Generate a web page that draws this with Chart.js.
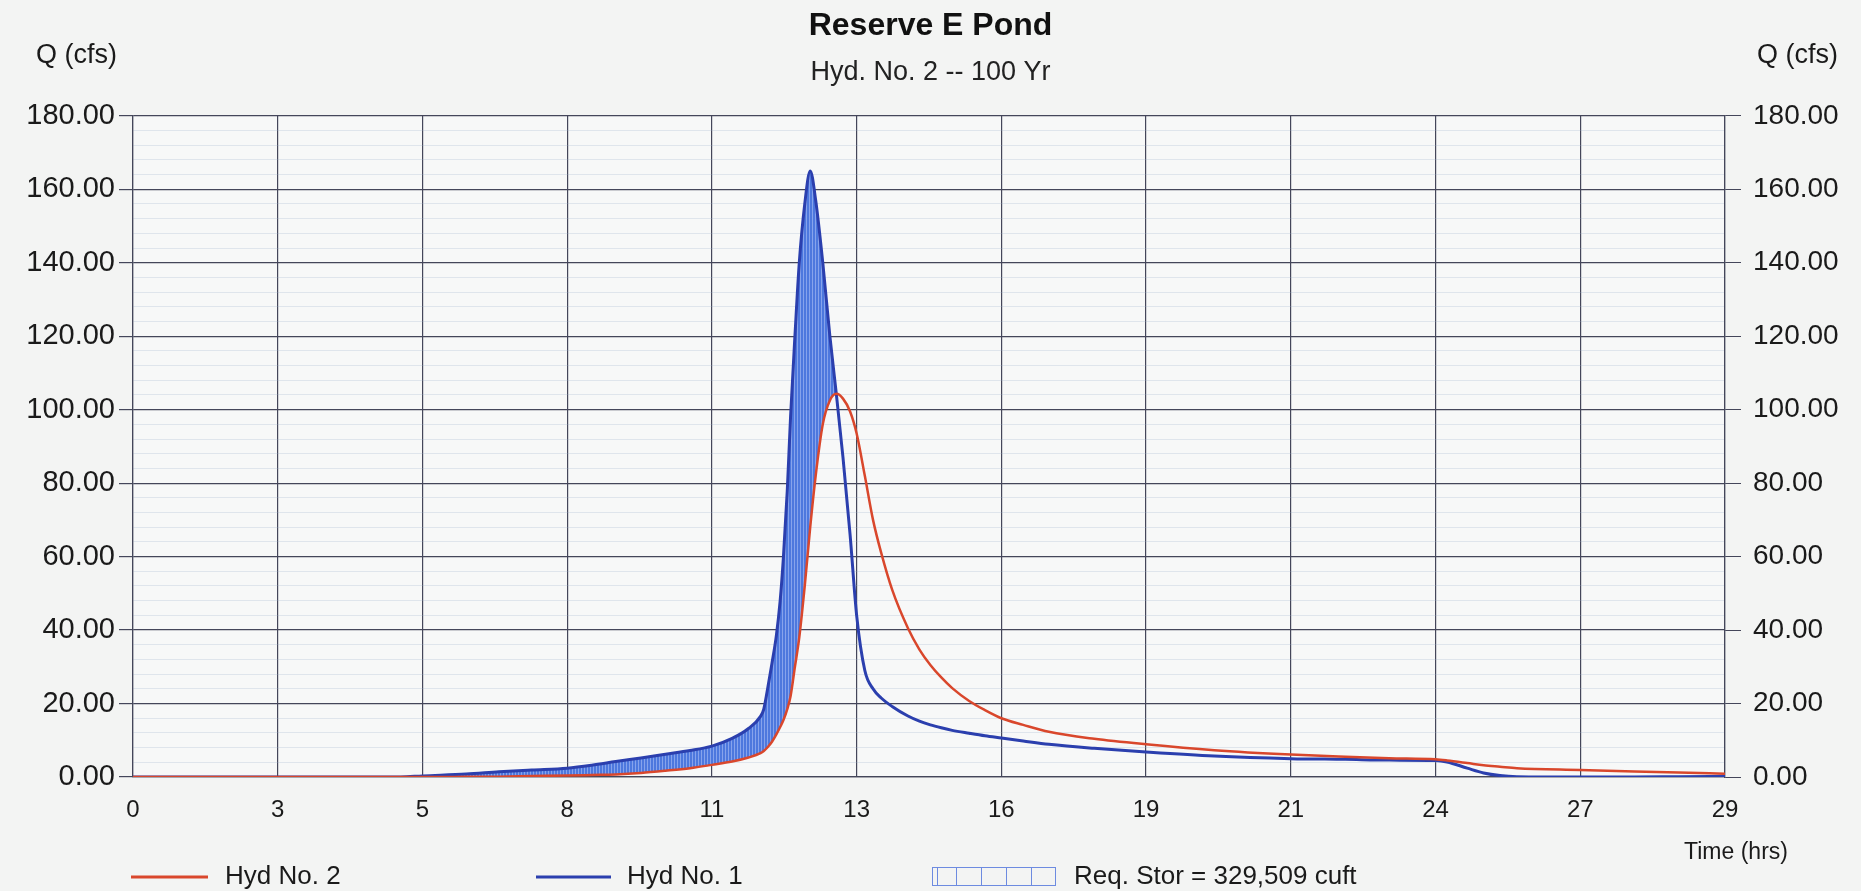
<!DOCTYPE html>
<html>
<head>
<meta charset="utf-8">
<script src="https://cdn.jsdelivr.net/npm/chart.js@4.4.1/dist/chart.umd.min.js"></script>
<style>
html,body{margin:0;padding:0;background:#f3f4f3;}
#wrap{width:1861px;height:891px;}
</style>
</head>
<body>
<div id="wrap"><canvas id="c" width="1861" height="891"></canvas></div>
<script>
// ---- data ----
const hours  = [0, 2, 4, 4.9, 5.3, 6.1, 6.7, 7.3, 7.95, 8.4, 8.84, 9.3, 9.75, 10.2, 10.6, 10.97, 11.27, 11.49, 11.55, 11.62, 11.7, 11.78, 11.85, 11.91, 11.98, 12.04, 12.12, 12.2, 12.3, 12.4, 12.5, 12.63, 12.76, 12.88, 13.0, 13.13, 13.25, 13.4, 13.55, 13.7, 13.9, 14.19, 14.4, 14.6, 14.8, 15.0, 15.31, 15.6, 15.9, 16.3, 16.77, 17.6, 18.55, 19.8, 21.2, 22.2, 23.0, 23.85, 24.06, 24.43, 24.73, 25.03, 25.34, 26.5, 27.49, 28.3, 29.15];
const hydNo1 = [0, 0, 0, 0, 0.3, 0.8, 1.4, 1.9, 2.4, 3.2, 4.2, 5.2, 6.2, 7.2, 8.4, 10.5, 13.2, 16.5, 18.5, 24, 31, 38.5, 48, 60, 78, 98, 120, 140, 156, 165, 157, 140, 120, 104, 87, 66, 44, 29, 24, 21.5, 19.2, 16.6, 15.2, 14.2, 13.4, 12.7, 11.9, 11.2, 10.6, 9.8, 8.9, 7.8, 6.8, 5.7, 5.0, 4.8, 4.6, 4.5, 4.1, 2.4, 1.1, 0.4, 0.1, 0, 0, 0.1, 0.2];
const hydNo2 = [0, 0, 0, 0, 0, 0.05, 0.1, 0.25, 0.4, 0.55, 0.7, 1.1, 1.7, 2.4, 3.3, 4.2, 5.3, 6.5, 7.1, 8.1, 9.6, 11.6, 13.6, 15.5, 18.5, 22, 30, 38, 52, 68, 82, 96, 102.5, 104.3, 103, 99.5, 93.5, 82, 70, 61, 51, 40.5, 34.7, 30.5, 27.1, 24.2, 20.7, 18.2, 16, 14.2, 12.3, 10.4, 8.9, 7.3, 6.1, 5.5, 5.1, 4.8, 4.5, 3.8, 3.2, 2.8, 2.4, 1.9, 1.5, 1.2, 0.9];
const xTickHours  = [0, 2.65, 5.3, 7.95, 10.6, 13.25, 15.9, 18.55, 21.2, 23.85, 26.5, 29.15];
const xTickLabels = ['0', '3', '5', '8', '11', '13', '16', '19', '21', '24', '27', '29'];
const yMajorStep = 20;
const yMinorStep = 4;
const yMax = 180;
const seriesNames = ['Hyd No. 2', 'Hyd No. 1'];
const storageLabel = 'Req. Stor = 329,509 cuft';
const titleText = 'Reserve E Pond';
const subtitleText = 'Hyd. No. 2 -- 100 Yr';

const FONT = "'Liberation Sans', Arial, sans-serif";
const RED = '#d9472c';
const BLUE = '#2b3fae';
const MAJOR = '#44465a';
const MINOR = 'rgba(150,170,200,0.25)';

function makeHatch() {
  const c = document.createElement('canvas');
  c.width = 3; c.height = 8;
  const g = c.getContext('2d');
  g.fillStyle = '#4d78de'; g.fillRect(0, 0, 3, 8);
  g.fillStyle = '#86a3ec'; g.fillRect(2, 0, 1, 8);
  return g.createPattern(c, 'repeat');
}
const hatch = makeHatch();

const yTickValues = [];
for (let v = 0; v <= yMax; v += yMinorStep) yTickValues.push(v);

const pts = arr => hours.map((h, i) => ({x: h, y: arr[i]}));
const isMajor = v => Math.abs(v % yMajorStep) < 1e-6;

const bgPlugin = {
  id: 'bg',
  beforeDraw(chart) {
    const {ctx, chartArea: a} = chart;
    ctx.save();
    ctx.fillStyle = '#f3f4f3';
    ctx.fillRect(0, 0, chart.width, chart.height);
    ctx.fillStyle = '#f7f8f8';
    ctx.fillRect(a.left, a.top, a.right - a.left, a.bottom - a.top);
    ctx.restore();
  }
};

const textPlugin = {
  id: 'texts',
  afterDraw(chart) {
    const {ctx} = chart;
    ctx.save();
    ctx.fillStyle = '#1a1a1a';
    ctx.textBaseline = 'middle';
    ctx.textAlign = 'left';
    ctx.font = '27px ' + FONT;
    ctx.fillText('Q (cfs)', 36, 56);
    ctx.fillText('Q (cfs)', 1757, 56);
    ctx.font = '23px ' + FONT;
    ctx.textAlign = 'center';
    ctx.fillText('Time (hrs)', 1736, 853);
    ctx.textAlign = 'left';
    ctx.font = '26px ' + FONT;
    // legend
    const ly = 877;
    ctx.lineWidth = 3;
    ctx.strokeStyle = RED;
    ctx.beginPath(); ctx.moveTo(131, ly); ctx.lineTo(208, ly); ctx.stroke();
    ctx.fillText(seriesNames[0], 225, ly);
    ctx.strokeStyle = BLUE;
    ctx.beginPath(); ctx.moveTo(536, ly); ctx.lineTo(611, ly); ctx.stroke();
    ctx.fillText(seriesNames[1], 627, ly);
    // storage box
    ctx.lineWidth = 1;
    ctx.strokeStyle = '#6d8be0';
    ctx.strokeRect(932.5, 867.5, 123, 18);
    [937, 956, 981, 1006, 1031].forEach(x => {
      ctx.beginPath(); ctx.moveTo(x + 0.5, 867.5); ctx.lineTo(x + 0.5, 885.5); ctx.stroke();
    });
    ctx.fillText(storageLabel, 1074, ly);
    ctx.restore();
  }
};

new Chart(document.getElementById('c'), {
  type: 'line',
  data: {
    datasets: [
      {
        label: seriesNames[0],
        data: pts(hydNo2),
        borderColor: RED,
        borderWidth: 2.5,
        pointRadius: 0,
        cubicInterpolationMode: 'monotone',
        fill: false,
        yAxisID: 'y'
      },
      {
        label: seriesNames[1],
        data: pts(hydNo1),
        borderColor: BLUE,
        borderWidth: 3,
        pointRadius: 0,
        cubicInterpolationMode: 'monotone',
        fill: {target: 0, above: hatch, below: 'rgba(0,0,0,0)'},
        yAxisID: 'y'
      }
    ]
  },
  options: {
    responsive: false,
    animation: false,
    events: [],
    layout: {padding: 0},
    plugins: {
      legend: {display: false},
      tooltip: {enabled: false},
      title: {
        display: true,
        text: titleText,
        color: '#111',
        font: {family: FONT, size: 32, weight: 'bold'},
        padding: {top: 7, bottom: 0}
      },
      subtitle: {
        display: true,
        text: subtitleText,
        color: '#222',
        font: {family: FONT, size: 27},
        padding: {top: 11, bottom: 27}
      }
    },
    scales: {
      x: {
        type: 'linear',
        min: 0,
        max: xTickHours[xTickHours.length - 1],
        afterBuildTicks: s => { s.ticks = xTickHours.map(v => ({value: v})); },
        afterFit: s => { s.height = 114; },
        ticks: {
          autoSkip: false, maxRotation: 0,
          color: '#1a1a1a',
          font: {family: FONT, size: 24},
          padding: 19,
          callback: (v, i) => xTickLabels[i]
        },
        grid: {color: MAJOR, lineWidth: 1.2, drawTicks: false},
        border: {color: MAJOR, width: 1.2}
      },
      y: {
        type: 'linear',
        position: 'left',
        min: 0, max: yMax,
        afterBuildTicks: s => { s.ticks = yTickValues.map(v => ({value: v})); },
        afterFit: s => { s.width = 133; },
        ticks: {
          autoSkip: false,
          color: '#1a1a1a',
          font: {family: FONT, size: 29},
          padding: 4,
          callback: v => isMajor(v) ? v.toFixed(2) : ''
        },
        grid: {
          color: c => isMajor(c.tick.value) ? MAJOR : MINOR,
          lineWidth: c => isMajor(c.tick.value) ? 1.2 : 1,
          tickColor: c => isMajor(c.tick.value) ? MAJOR : 'rgba(0,0,0,0)',
          tickLength: 14
        },
        border: {color: MAJOR, width: 1.2}
      },
      y2: {
        type: 'linear',
        position: 'right',
        min: 0, max: yMax,
        afterBuildTicks: s => { s.ticks = yTickValues.map(v => ({value: v})); },
        afterFit: s => { s.width = 136; },
        ticks: {
          autoSkip: false,
          color: '#1a1a1a',
          font: {family: FONT, size: 28},
          padding: 12,
          callback: v => isMajor(v) ? v.toFixed(2) : ''
        },
        grid: {
          drawOnChartArea: false,
          tickColor: c => isMajor(c.tick.value) ? MAJOR : 'rgba(0,0,0,0)',
          tickLength: 16
        },
        border: {color: MAJOR, width: 1.2}
      }
    }
  },
  plugins: [bgPlugin, textPlugin]
});
</script>
</body>
</html>
